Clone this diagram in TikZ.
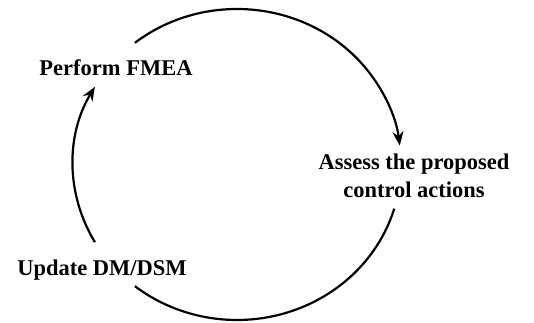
\documentclass[tikz,border=0pt]{standalone}
\usepackage{fontspec}
\setmainfont{Liberation Serif}
\usetikzlibrary{arrows.meta}
\begin{document}
\begin{tikzpicture}[x=1pt,y=1pt,
	lbl/.style={font=\fontsize{22.5}{28}\selectfont\bfseries, inner sep=0pt, align=center},
	cyc/.style={line width=2.2pt}]
	\useasboundingbox (0,0) rectangle (534,322);
	\coordinate (c) at (237,157.5);
	\node [lbl, anchor=base] (fmea) at (116,247) {Perform FMEA};
	\node [lbl] (assess) at (414,146) {Assess the proposed\\control actions};
	\node [lbl, anchor=base] (update) at (102,47) {Update DM/DSM};
	\coordinate (s1) at ([shift={(128.5:164pt and 155.5pt)}]c);
	\coordinate (s2) at ([shift={(-16.5:164pt and 155.5pt)}]c);
	\coordinate (s3) at ([shift={(210:164pt and 155.5pt)}]c);
	\draw [cyc, -{Stealth[length=14pt,width=11pt]}] (s1) arc[start angle=128.5, end angle=7, x radius=164pt, y radius=155.5pt];
	\draw [cyc] (s2) arc[start angle=-16.5, end angle=-128.5, x radius=164pt, y radius=155.5pt];
	\draw [cyc, -{Stealth[length=14pt,width=11pt]}] (s3) arc[start angle=210, end angle=150, x radius=164pt, y radius=155.5pt];
\end{tikzpicture}
\end{document}
